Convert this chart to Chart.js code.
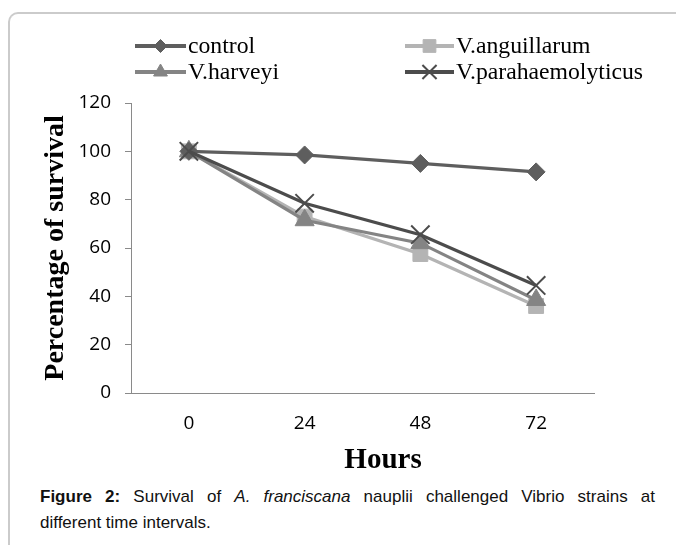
<!DOCTYPE html>
<html>
<head>
<meta charset="utf-8">
<script src="https://cdn.jsdelivr.net/npm/chart.js@4/dist/chart.umd.min.js"></script>
<style>
  html, body { margin: 0; padding: 0; background: #fff; }
  body { width: 676px; height: 545px; position: relative; overflow: hidden; }
  #frame { position: absolute; left: 8px; top: 12px; width: 720px; height: 600px;
           border-left: 2px solid #cbcbcb; border-top: 2px solid #cbcbcb; border-top-left-radius: 10px; }
  #wrap { position: absolute; left: 0; top: 0; width: 676px; height: 480px; }
  #caption { position: absolute; left: 40px; top: 484px; width: 615px;
             font-family: "Liberation Sans", Arial, sans-serif; font-size: 17px; line-height: 26px;
             color: #111; }
  #caption .l1 { text-align: justify; text-align-last: justify; white-space: nowrap; }
  #caption .l2 { text-align: left; }
</style>
</head>
<body>
<div id="frame"></div>
<div id="wrap"><canvas id="c" width="676" height="480"></canvas></div>
<div id="caption"><div class="l1"><b>Figure 2:</b> Survival of <i>A. franciscana</i> nauplii challenged Vibrio strains at</div><div class="l2">different time intervals.</div></div>
<script>
const hours = ['0', '24', '48', '72'];
const seriesNames = ['control', 'V.anguillarum', 'V.harveyi', 'V.parahaemolyticus'];
const control = [100, 98.5, 95, 91.5];
const anguillarum = [100, 73, 57.5, 36];
const harveyi = [100, 71.5, 62, 38.5];
const parahaemolyticus = [100, 78.5, 65.5, 44.5];
const yTicks = [0, 20, 40, 60, 80, 100, 120];
const xTitle = 'Hours';

const styles = [
  { color: '#5e5e5e', pointStyle: 'rectRot', radius: 9, legendRadius: 6.5, pointBorderWidth: 1, order: 1 },
  { color: '#b4b4b4', pointStyle: 'rect', radius: 10.5, legendRadius: 9, pointBorderWidth: 1, order: 3 },
  { color: '#848484', pointStyle: 'triangle', radius: 11, legendRadius: 8, pointBorderWidth: 1, order: 2 },
  { color: '#4c4c4c', pointStyle: 'crossRot', radius: 13, legendRadius: 10, pointBorderWidth: 2, order: 0 }
];
const values = [control, anguillarum, harveyi, parahaemolyticus];

const datasets = values.map((v, i) => ({
  label: seriesNames[i],
  data: v,
  borderColor: styles[i].color,
  backgroundColor: styles[i].color,
  pointBackgroundColor: styles[i].color,
  pointBorderColor: styles[i].color,
  pointStyle: styles[i].pointStyle,
  pointRadius: styles[i].radius,
  pointBorderWidth: styles[i].pointBorderWidth,
  borderWidth: 3.2,
  tension: 0,
  order: styles[i].order
}));

const legendPlugin = {
  id: 'gridLegend',
  afterDraw(chart) {
    const ctx = chart.ctx;
    const pos = [
      { x1: 135, x2: 186, tx: 188, y: 46 },
      { x1: 405, x2: 454, tx: 456, y: 46 },
      { x1: 135, x2: 186, tx: 188, y: 72 },
      { x1: 405, x2: 454, tx: 456, y: 72 }
    ];
    ctx.save();
    pos.forEach((p, i) => {
      const st = styles[i];
      ctx.strokeStyle = st.color;
      ctx.lineWidth = 4;
      ctx.beginPath();
      ctx.moveTo(p.x1, p.y);
      ctx.lineTo(p.x2, p.y);
      ctx.stroke();
      ctx.fillStyle = st.color;
      ctx.strokeStyle = st.color;
      ctx.lineWidth = st.pointBorderWidth;
      if (Chart.helpers && Chart.helpers.drawPoint) {
        Chart.helpers.drawPoint(ctx, { pointStyle: st.pointStyle, radius: st.legendRadius, borderWidth: st.pointBorderWidth, rotation: 0 }, (p.x1 + p.x2) / 2, p.y);
      }
      ctx.fillStyle = '#000';
      ctx.font = '23.7px "Liberation Serif", "Times New Roman", serif';
      ctx.textBaseline = 'middle';
      ctx.textAlign = 'left';
      ctx.fillText(seriesNames[i], p.tx, p.y + 1);
    });
    ctx.fillStyle = '#000';
    ctx.font = 'bold 29px "Liberation Serif", "Times New Roman", serif';
    ctx.textAlign = 'center';
    ctx.textBaseline = 'alphabetic';
    ctx.fillText(xTitle, 383, 468);
    ctx.restore();
  }
};

new Chart(document.getElementById('c'), {
  type: 'line',
  data: { labels: hours, datasets: datasets },
  plugins: [legendPlugin],
  options: {
    responsive: false,
    animation: false,
    devicePixelRatio: 1,
    layout: { padding: { left: 38, right: 82, top: 103, bottom: 0 } },
    plugins: { legend: { display: false }, tooltip: { enabled: false } },
    scales: {
      x: {
        type: 'category',
        offset: true,
        afterFit(s) { s.height = 87; },
        grid: { display: true, drawOnChartArea: false, drawTicks: false, color: '#8a8a8a' },
        border: { display: true, color: '#8a8a8a', width: 1 },
        ticks: { color: '#000', padding: 19, font: { family: '"Open Sans", sans-serif', size: 19 } },
        title: { display: false }
      },
      y: {
        min: 0, max: 120,
        afterFit(s) { s.width = 93; },
        afterBuildTicks(s) { s.ticks = yTicks.map(v => ({ value: v })); },
        grid: { display: true, drawOnChartArea: false, drawTicks: true, tickLength: 6, color: '#8a8a8a' },
        border: { display: true, color: '#8a8a8a', width: 1 },
        ticks: { color: '#000', padding: 14, font: { family: '"Open Sans", sans-serif', size: 19 } },
        title: { display: true, text: 'Percentage of survival', color: '#000',
                 font: { family: '"Liberation Serif", "Times New Roman", serif', size: 28, weight: 'bold' },
                 padding: { top: 1, bottom: 0 } }
      }
    }
  }
});
</script>
</body>
</html>
